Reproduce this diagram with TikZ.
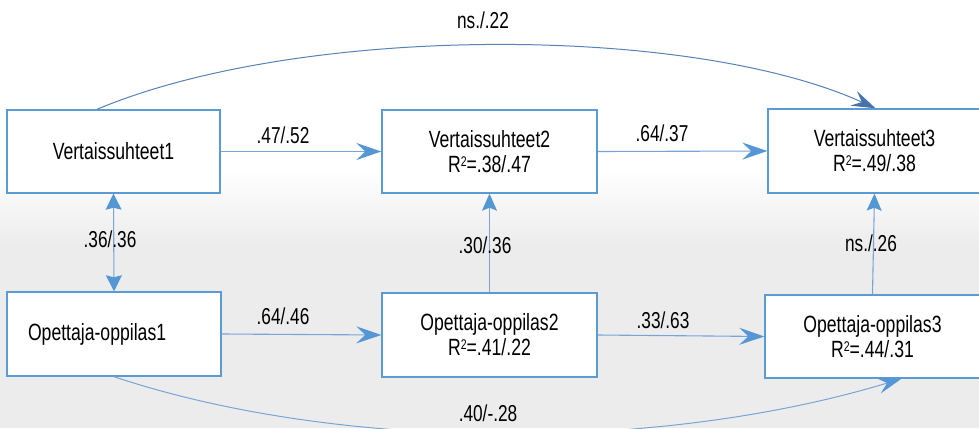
\documentclass[tikz,border=0pt]{standalone}
\usepackage{fontspec}
\setmainfont{Liberation Sans}[FakeStretch=0.75]
\usetikzlibrary{arrows.meta,calc}
\definecolor{boxc}{RGB}{91,155,213}
\definecolor{linec}{RGB}{120,165,215}
\definecolor{headc}{RGB}{85,150,212}
\definecolor{darkc}{RGB}{70,115,170}
\definecolor{bgg}{RGB}{236,236,236}
\newcommand{\sqtwo}{\raisebox{6pt}{\fontsize{14}{14}\selectfont 2}}
\tikzset{
  box/.style={draw=boxc, line width=1.4pt, fill=white, align=center, inner sep=0pt,
    font=\fontsize{23.5}{25}\selectfont},
  lbl/.style={font=\fontsize{23}{24}\selectfont, inner sep=0pt},
  conn/.style={draw=linec, line width=1.1pt,
    -{Stealth[length=25pt,width=17pt,inset=9pt,color=headc]}},
  vconn/.style={draw=linec, line width=1.1pt,
    -{Stealth[length=17pt,width=15pt,inset=3pt,color=headc]}},
  dconn/.style={draw=linec, line width=1.1pt,
    {Stealth[length=16pt,width=16pt,inset=2pt,color=headc]}-{Stealth[length=16pt,width=16pt,inset=2pt,color=headc]}},
  cconn/.style={draw=darkc!70!linec, line width=1pt,
    -{Stealth[length=24pt,width=16pt,inset=9pt,color=darkc]}},
  bconn/.style={draw=linec, line width=1pt,
    -{Stealth[length=24pt,width=16pt,inset=9pt,color=headc]}},
}
\begin{document}
\begin{tikzpicture}[x=1pt,y=-1pt]
\useasboundingbox (0,0) rectangle (979,428);
\fill[white] (0,0) rectangle (979,428);
\shade[top color=white,bottom color=bgg] (0,170) rectangle (979,245);
\fill[bgg] (0,245) rectangle (979,428);

\node[box, minimum width=213pt, minimum height=83pt] (v1) at (113.5,151.5) {Vertaissuhteet1};
\node[box, minimum width=215pt, minimum height=83pt] (v2) at (489.5,151.5) {Vertaissuhteet2\\R\sqtwo=.38/.47};
\node[box, minimum width=213pt, minimum height=84pt] (v3) at (874.5,151) {Vertaissuhteet3\\R\sqtwo=.49/.38};
\node[box, minimum width=214pt, minimum height=84pt, text width=172pt, align=left] (o1) at (114,334) {Opettaja-oppilas1};
\node[box, minimum width=215pt, minimum height=84pt] (o2) at (489.5,335) {Opettaja-oppilas2\\R\sqtwo=.41/.22};
\node[box, minimum width=215pt, minimum height=83pt] (o3) at (872.5,336.5) {Opettaja-oppilas3\\R\sqtwo=.44/.31};

\draw[conn] (v1.east) -- (v2.west);
\draw[conn] (v2.east) -- (v3.west);
\draw[conn] (o1.east) -- (o2.west);
\draw[conn] (o2.east) -- (o3.west);
\draw[dconn] (v1.south) -- (o1.north);
\draw[vconn] (o2.north) -- (v2.south);
\draw[vconn] (o3.north) -- (v3.south);
\draw[cconn] ([xshift=-16.5pt]v1.north) .. controls (300,24) and (690,24) .. ([xshift=1pt]v3.north);
\draw[bconn] (o1.south) .. controls (340,452) and (660,452) .. ([xshift=29pt]o3.south);

\node[lbl] (l1) at (483,20) {ns./.22};
\node[lbl] (l2) at (283,135) {.47/.52};
\node[lbl] (l3) at (662,133) {.64/.37};
\node[lbl] (l4) at (110,239) {.36/.36};
\node[lbl] (l5) at (485,245) {.30/.36};
\node[lbl] (l6) at (871,243) {ns./.26};
\node[lbl] (l7) at (283,316) {.64/.46};
\node[lbl] (l8) at (663,320) {.33/.63};
\node[lbl] (l9) at (488,413) {.40/-.28};
\end{tikzpicture}
\end{document}
